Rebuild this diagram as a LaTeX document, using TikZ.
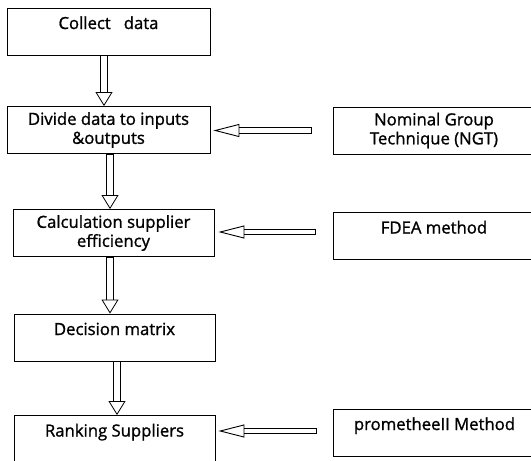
\documentclass[tikz,border=0pt]{standalone}
\usepackage{fontspec}
\setmainfont{Open Sans}
\newfontfamily\boxfont[FakeBold=1.2]{Open Sans}
\usetikzlibrary{arrows.meta}

\tikzset{
  box/.style={draw, line width=0.9pt, minimum height=47pt, align=center, inner sep=4pt,
    font=\boxfont\fontsize{16.7}{19}\selectfont},
  oneline/.style={box, text height=17pt, text depth=22pt},
  vflow/.style={double, double distance=6pt, line width=0.8pt,
    {Bar[width=7.6pt]}-{Triangle[open, length=14pt, width=17pt]}},
  hflow/.style={double, double distance=4.4pt, line width=0.9pt,
    {Bar[width=6.2pt]}-{Triangle[open, length=26pt, width=13pt]}},
}

\begin{document}
\begin{tikzpicture}[x=1pt, y=-1pt]
\useasboundingbox (0,0) rectangle (531,461);
% main column
\node[oneline, minimum width=203pt] (collect) at (108.5,31.5) {Collect \ \ data};
\node[box, minimum width=203pt] (divide) at (108.5,130) {Divide data to inputs\\ \&outputs};
\node[box, minimum width=201pt] (calc) at (113.5,233) {Calculation supplier\\ efficiency};
\node[oneline, minimum width=201pt] (decision) at (114.5,337.5) {Decision matrix};
\node[oneline, minimum width=201pt] (rank) at (114.5,439) {Ranking Suppliers};
% methods
\node[box, minimum width=202pt] (ngt) at (434,130.5) {Nominal Group\\ Technique (NGT)};
\node[oneline, minimum width=202pt] (fdea) at (434,236) {FDEA method};
\node[oneline, minimum width=202pt] (prom) at (434.5,432.5) {prometheeII Method};

\draw[vflow] ([xshift=-4.5pt]collect.south) -- ([xshift=-4.5pt]divide.north);
\draw[vflow] ([xshift=1.5pt]divide.south) -- ([xshift=1.5pt]divide.south |- calc.north);
\draw[vflow] ([xshift=-3.5pt]calc.south) -- ([xshift=-3.5pt]calc.south |- decision.north);
\draw[vflow] ([xshift=2.5pt]decision.south) -- ([xshift=2.5pt]decision.south |- rank.north);

\draw[hflow, shorten <=21pt, shorten >=3pt] (ngt.west) -- (ngt.west -| divide.east);
\draw[hflow, shorten <=17pt, shorten >=4pt] ([yshift=1pt]calc.east -| fdea.west) -- ([yshift=1pt]calc.east);
\draw[hflow, shorten <=16pt, shorten >=3pt] ([yshift=1.5pt]prom.west) -- ([yshift=1.5pt]prom.west -| rank.east);
\end{tikzpicture}
\end{document}
